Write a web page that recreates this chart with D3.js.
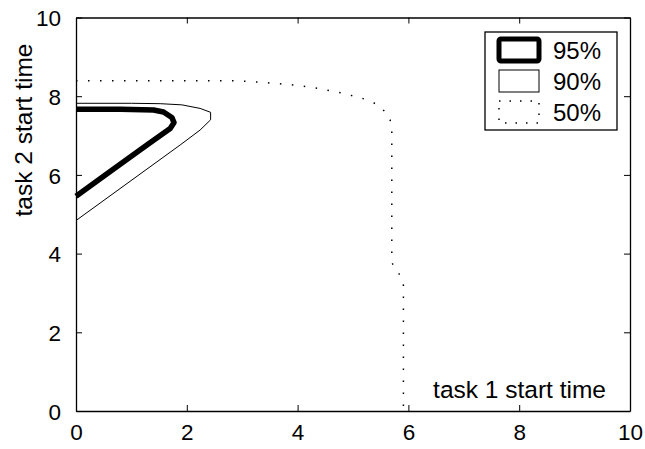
<!DOCTYPE html>
<html>
<head>
<meta charset="utf-8">
<script src="https://cdn.jsdelivr.net/npm/d3@7"></script>
<style>
  body { margin: 0; background: #fff; }
  text { font-family: "Liberation Sans", Arial, sans-serif; fill: #000; }
</style>
</head>
<body>
<div id="chart"></div>
<script>
    // contour lines: [task1, task2]
    var contour95 = [[0, 7.67], [0.8, 7.67], [1.40, 7.65], [1.58, 7.60], [1.73, 7.46], [1.77, 7.33],
                     [1.70, 7.18], [1.28, 6.76], [0.61, 6.08], [0, 5.46]];
    var contour90 = [[0, 7.82], [1.0, 7.82], [1.52, 7.81], [1.91, 7.78], [2.24, 7.69], [2.43, 7.59],
                     [2.43, 7.40], [2.24, 7.14], [1.88, 6.76], [0, 4.84]];
    var contour50 = [[0, 8.39], [2.96, 8.39], [3.56, 8.33], [3.98, 8.28], [4.37, 8.20], [4.77, 8.09],
                     [5.16, 7.95], [5.37, 7.84], [5.58, 7.61], [5.67, 7.40], [5.70, 7.18], [5.70, 3.77],
                     [5.79, 3.58], [5.88, 3.37], [5.91, 3.2], [5.91, 0]];
    var legendLabels = ["95%", "90%", "50%"];
    var xTicks = [0, 2, 4, 6, 8, 10];
    var yTicks = [0, 2, 4, 6, 8, 10];

    var width = 645, height = 449;
    var plotLeft = 76, plotRight = 630, plotTop = 17.5, plotBottom = 411;

    var x = d3.scaleLinear().domain([0, 10]).range([plotLeft, plotRight]);
    var y = d3.scaleLinear().domain([0, 10]).range([plotBottom, plotTop]);

    var svg = d3.select("#chart").append("svg")
        .attr("width", width)
        .attr("height", height);

    // series styles: thick, thin, dotted
    var styles = [
        {w: 5.5, dash: null},
        {w: 1, dash: null},
        {w: 1.5, dash: "1.5,10.5"}
    ];
    var series = [contour95, contour90, contour50];

    var line = d3.line()
        .x(function (d) { return x(d[0]); })
        .y(function (d) { return y(d[1]); });

    svg.append("g").selectAll("path")
        .data(series)
        .enter().append("path")
        .attr("d", line)
        .attr("fill", "none")
        .attr("stroke", "#000")
        .attr("stroke-linejoin", "round")
        .attr("stroke-width", function (d, i) { return styles[i].w; })
        .attr("stroke-dasharray", function (d, i) { return styles[i].dash; });

    // axes: ticks inward on all four sides, labels left and bottom
    var axisBottom = svg.append("g").attr("transform", "translate(0," + plotBottom + ")")
        .call(d3.axisBottom(x).tickValues(xTicks).tickSizeInner(-6).tickSizeOuter(0).tickPadding(13));
    var axisTop = svg.append("g").attr("transform", "translate(0," + plotTop + ")")
        .call(d3.axisTop(x).tickValues(xTicks).tickSizeInner(-6).tickSizeOuter(0).tickFormat(""));
    var axisLeft = svg.append("g").attr("transform", "translate(" + plotLeft + ",0)")
        .call(d3.axisLeft(y).tickValues(yTicks).tickSizeInner(-6).tickSizeOuter(0).tickPadding(15));
    var axisRight = svg.append("g").attr("transform", "translate(" + plotRight + ",0)")
        .call(d3.axisRight(y).tickValues(yTicks).tickSizeInner(-6).tickSizeOuter(0).tickFormat(""));

    [axisBottom, axisTop, axisLeft, axisRight].forEach(function (a) {
        a.selectAll(".domain").attr("stroke", "#000").attr("stroke-width", 1.3);
        a.selectAll(".tick line").attr("stroke", "#000").attr("stroke-width", 1);
        a.selectAll("text").attr("font-size", 22.5).attr("font-family", "'Liberation Sans', Arial, sans-serif").attr("fill", "#000");
    });
    axisLeft.selectAll("text").attr("dy", "0.36em");

    // axis labels
    svg.append("text")
        .attr("x", 606)
        .attr("y", 398)
        .attr("text-anchor", "end")
        .attr("font-size", 24.5)
        .text("task 1 start time");

    svg.append("text")
        .attr("transform", "translate(31.5,130) rotate(-90)")
        .attr("text-anchor", "middle")
        .attr("font-size", 24.5)
        .text("task 2 start time");

    // legend
    var legend = svg.append("g");
    legend.append("rect")
        .attr("x", 485).attr("y", 32)
        .attr("width", 132).attr("height", 98)
        .attr("fill", "#fff").attr("stroke", "#000").attr("stroke-width", 1.3);

    var rows = [50, 81, 112];
    var item = legend.selectAll("g.item")
        .data(legendLabels)
        .enter().append("g")
        .attr("class", "item");

    item.append("rect")
        .attr("x", 499)
        .attr("y", function (d, i) { return rows[i] - 11; })
        .attr("width", 40)
        .attr("height", 22)
        .attr("rx", function (d, i) { return i === 0 ? 2 : 0; })
        .attr("fill", "none")
        .attr("stroke", "#000")
        .attr("stroke-width", function (d, i) { return i === 0 ? 5 : styles[i].w; })
        .attr("stroke-dasharray", function (d, i) { return i === 2 ? "1.5,9" : null; });

    item.append("text")
        .attr("x", 553)
        .attr("y", function (d, i) { return rows[i] + 8.5; })
        .attr("font-size", 24)
        .text(function (d) { return d; });
</script>
</body>
</html>
